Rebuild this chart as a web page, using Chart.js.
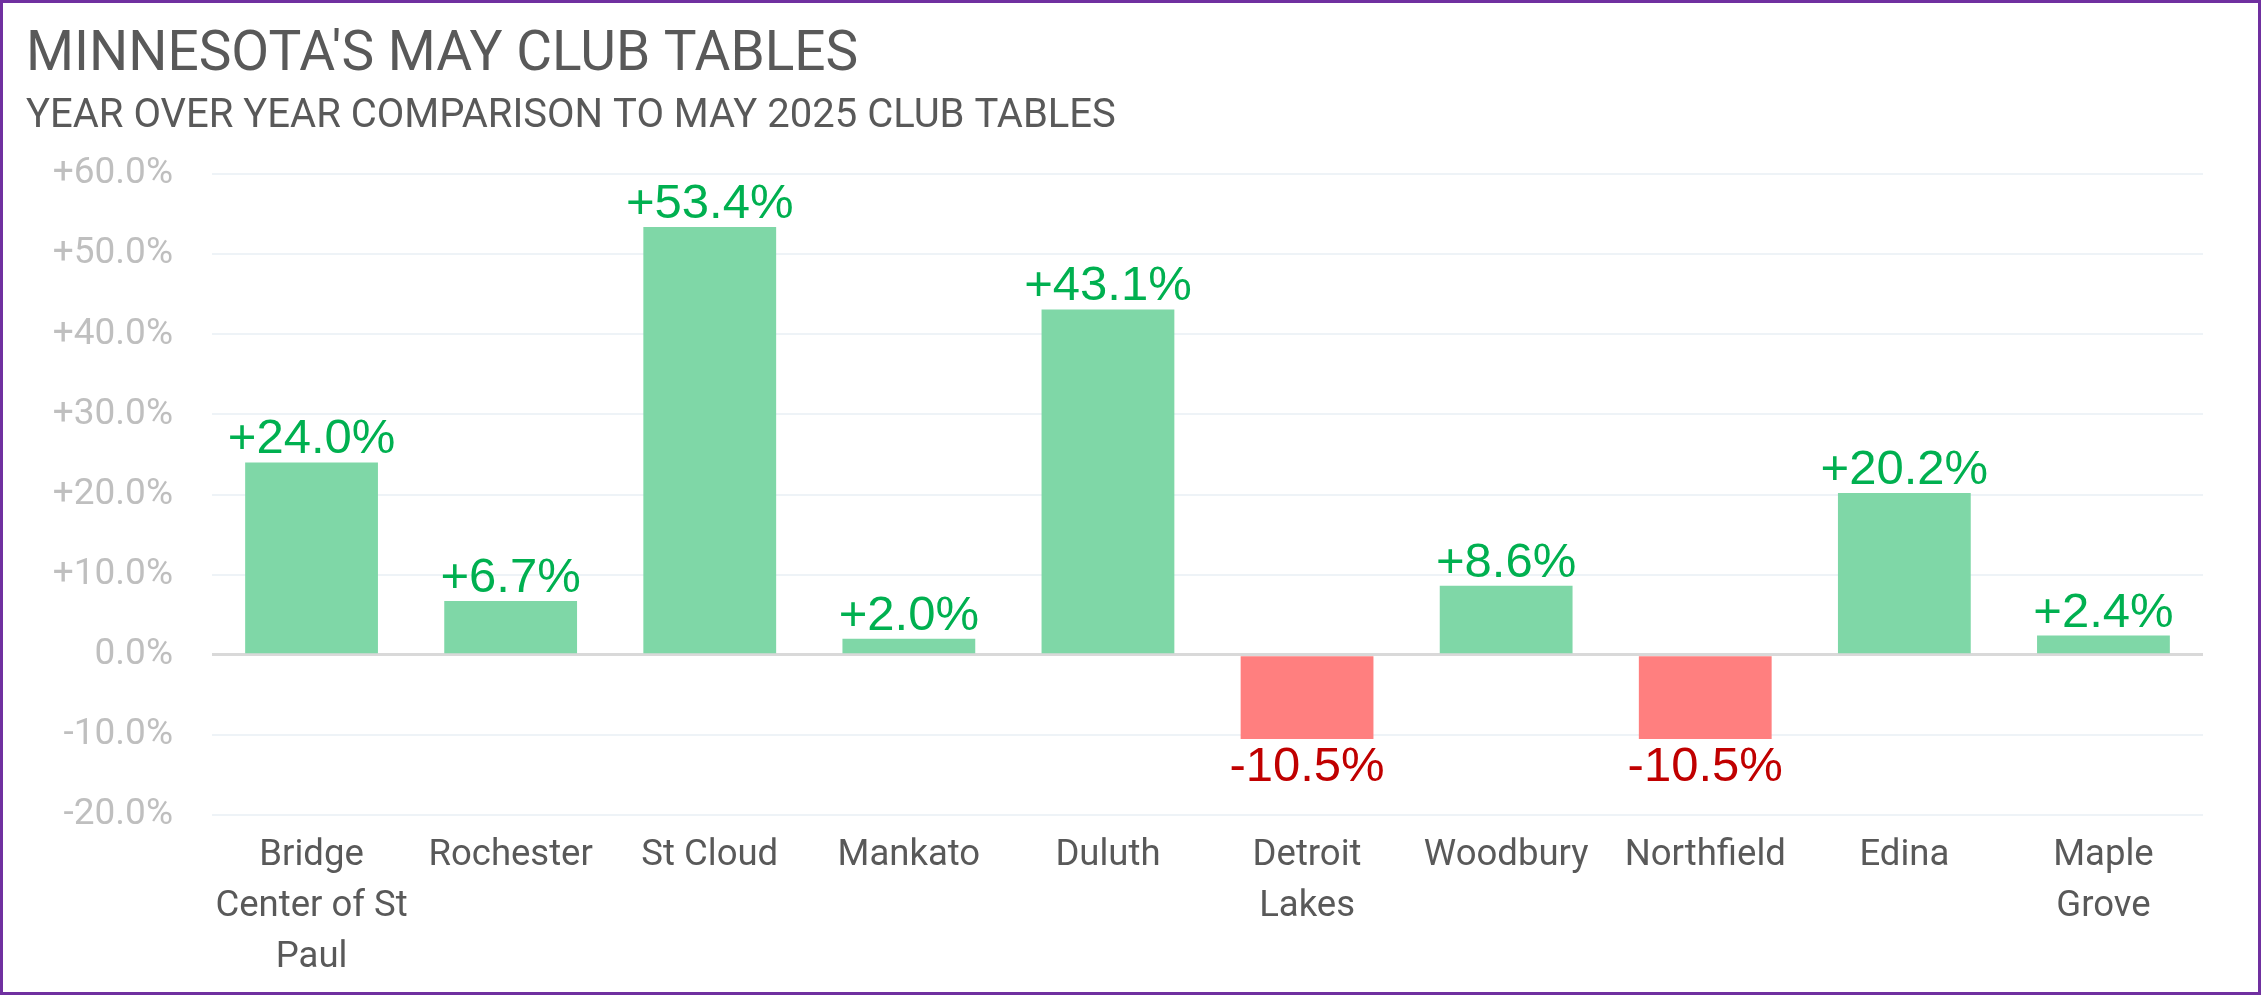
<!DOCTYPE html>
<html>
<head>
<meta charset="utf-8">
<title>Minnesota's May Club Tables</title>
<script src="https://cdn.jsdelivr.net/npm/chart.js@4.4.1/dist/chart.umd.min.js"></script>
<style>
  html, body { margin: 0; padding: 0; background: #fff; }
  #wrap { width: 2261px; height: 995px; position: relative; }
</style>
</head>
<body>
<div id="wrap"><canvas id="clubChart" width="2261" height="995"></canvas></div>
<script>
// chart data
const clubs = [
  ['Bridge', 'Center of St', 'Paul'],
  'Rochester',
  'St Cloud',
  'Mankato',
  'Duluth',
  ['Detroit', 'Lakes'],
  'Woodbury',
  'Northfield',
  'Edina',
  ['Maple', 'Grove']
];
const yoyChange = [24.0, 6.7, 53.4, 2.0, 43.1, -10.5, 8.6, -10.5, 20.2, 2.4];
const yTicks = [-20, -10, 0, 10, 20, 30, 40, 50, 60];

const GREEN_BAR = '#7FD7A7';
const RED_BAR = '#FF7F7F';
const GREEN_TXT = '#00B050';
const RED_TXT = '#C00000';

const fmtPct = v => (v > 0 ? '+' : '') + v.toFixed(1) + '%';

// value labels above / below each bar
const valueLabels = {
  id: 'valueLabels',
  afterDatasetsDraw(chart) {
    const ctx = chart.ctx;
    const meta = chart.getDatasetMeta(0);
    ctx.save();
    ctx.font = '49px "Liberation Sans", Arial, sans-serif';
    ctx.textAlign = 'center';
    meta.data.forEach((bar, i) => {
      const v = yoyChange[i];
      if (v >= 0) {
        ctx.fillStyle = GREEN_TXT;
        ctx.textBaseline = 'bottom';
        ctx.fillText(fmtPct(v), bar.x, bar.y + 2);
      } else {
        ctx.fillStyle = RED_TXT;
        ctx.textBaseline = 'top';
        ctx.fillText(fmtPct(v), bar.x, bar.y + 4);
      }
    });
    ctx.restore();
  }
};

// purple frame round the whole chart
const frame = {
  id: 'frame',
  afterDraw(chart) {
    const ctx = chart.ctx;
    ctx.save();
    ctx.strokeStyle = '#7030A0';
    ctx.lineWidth = 3;
    ctx.strokeRect(1.5, 1.5, chart.width - 3, chart.height - 3);
    ctx.restore();
  }
};

new Chart(document.getElementById('clubChart'), {
  type: 'bar',
  data: {
    labels: clubs,
    datasets: [{
      data: yoyChange,
      backgroundColor: yoyChange.map(v => v >= 0 ? GREEN_BAR : RED_BAR),
      borderWidth: 0,
      categoryPercentage: 1,
      barPercentage: 0.667
    }]
  },
  options: {
    responsive: false,
    animation: false,
    devicePixelRatio: 1,
    layout: { padding: { top: 10, left: 26, right: 58, bottom: 0 } },
    plugins: {
      legend: { display: false },
      tooltip: { enabled: false },
      title: {
        display: true,
        text: "MINNESOTA'S MAY CLUB TABLES",
        align: 'start',
        color: '#595959',
        font: { family: 'Roboto', size: 55, weight: 'normal', lineHeight: 1.2 },
        padding: { top: 13, bottom: 0 }
      },
      subtitle: {
        display: true,
        text: 'YEAR OVER YEAR COMPARISON TO MAY 2025 CLUB TABLES',
        align: 'start',
        color: '#595959',
        font: { family: 'Roboto', size: 40, weight: 'normal', lineHeight: 1.2 },
        padding: { top: 4, bottom: 33 }
      }
    },
    scales: {
      x: {
        grid: { display: false },
        border: { display: false },
        ticks: {
          color: '#595959',
          padding: 7,
          maxRotation: 0,
          autoSkip: false,
          font: { family: 'Roboto', size: 36.5, lineHeight: 1.4 }
        },
        afterFit(scale) { scale.height = 180; }
      },
      y: {
        min: -20,
        max: 60,
        afterBuildTicks(scale) { scale.ticks = yTicks.map(v => ({ value: v })); },
        grid: {
          drawTicks: false,
          color: ctx => ctx.tick && ctx.tick.value === 0 ? '#D9D9D9' : '#EEF3F7',
          lineWidth: ctx => ctx.tick && ctx.tick.value === 0 ? 3 : 2
        },
        border: { display: false },
        ticks: {
          color: '#BFBFBF',
          padding: 39,
          font: { family: 'Roboto', size: 37 },
          callback: v => (v > 0 ? '+' : '') + Number(v).toFixed(1) + '%'
        },
        afterFit(scale) { scale.width = 186; }
      }
    }
  },
  plugins: [valueLabels, frame]
});
</script>
</body>
</html>
